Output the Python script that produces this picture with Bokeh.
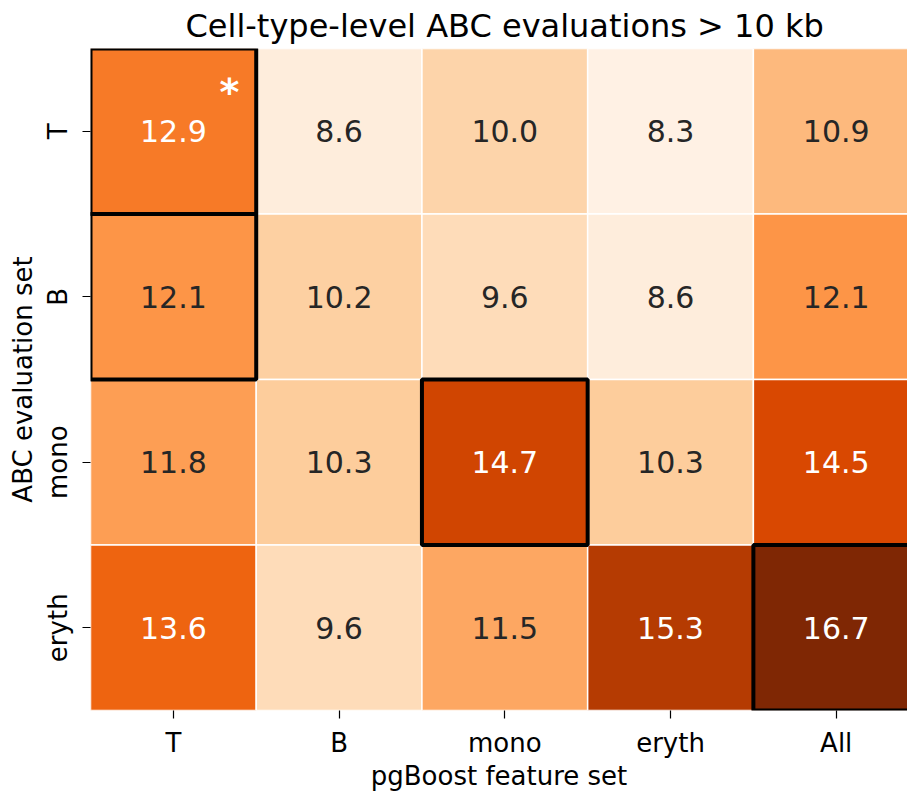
import numpy as np
from bokeh.plotting import figure
from bokeh.models import ColumnDataSource, LinearColorMapper, FixedTicker, Range1d
from bokeh.palettes import Oranges256
from bokeh.transform import transform
from bokeh.embed import file_html
from bokeh.resources import INLINE
from bokeh.core.properties import value

feature_sets = ["T", "B", "mono", "eryth", "All"]
eval_sets = ["T", "B", "mono", "eryth"]
values = [
    [12.9, 8.6, 10.0, 8.3, 10.9],
    [12.1, 10.2, 9.6, 8.6, 12.1],
    [11.8, 10.3, 14.7, 10.3, 14.5],
    [13.6, 9.6, 11.5, 15.3, 16.7],
]
highlight_cells = [("T", "T"), ("B", "T"), ("mono", "mono"), ("eryth", "All")]
star_cells = [("T", "T")]
title_text = "Cell-type-level ABC evaluations > 10 kb"

FONT = "DejaVu Sans"

xs, ys, vs, labels, tcolors = [], [], [], [], []
for r, ev in enumerate(eval_sets):
    for c, fs in enumerate(feature_sets):
        v = values[r][c]
        xs.append(c + 0.5)
        ys.append(r + 0.5)
        vs.append(v)
        labels.append(f"{v:.1f}")
        tcolors.append("white" if v > 12.5 else "#262626")

src = ColumnDataSource(dict(x=xs, y=ys, v=vs, label=labels, tc=tcolors))
mapper = LinearColorMapper(palette=list(reversed(Oranges256)), low=8.0, high=16.7)

p = figure(width=907, height=795, output_backend="svg", toolbar_location=None,
           x_range=Range1d(0, 4.93), y_range=Range1d(4, 0),
           min_border_left=90, min_border_right=0, min_border_top=47, min_border_bottom=85)
p.outline_line_color = None
p.grid.visible = False
p.background_fill_color = "white"

p.rect(x="x", y="y", width=1, height=1, source=src,
       fill_color=transform("v", mapper), line_color="white", line_width=1.5)

hx = [feature_sets.index(f) + 0.5 for e, f in highlight_cells]
hy = [eval_sets.index(e) + 0.5 for e, f in highlight_cells]
p.rect(x=hx, y=hy, width=1, height=1, fill_color=None, line_color="black", line_width=4)

p.text(x="x", y="y", text="label", source=src, text_color="tc",
       text_align="center", text_baseline="middle",
       text_font=value(FONT), text_font_size="30px")

sx = [feature_sets.index(f) + 0.5 for e, f in star_cells]
sy = [eval_sets.index(e) + 0.5 for e, f in star_cells]
p.text(x=sx, y=sy, text=["*"] * len(sx), x_offset=56, y_offset=-39,
       text_color="white", text_align="center", text_baseline="middle",
       text_font=value(FONT), text_font_size="38px", text_font_style="bold")

p.xaxis.ticker = FixedTicker(ticks=[i + 0.5 for i in range(len(feature_sets))])
p.xaxis.major_label_overrides = {i + 0.5: s for i, s in enumerate(feature_sets)}
p.yaxis.ticker = FixedTicker(ticks=[i + 0.5 for i in range(len(eval_sets))])
p.yaxis.major_label_overrides = {i + 0.5: s for i, s in enumerate(eval_sets)}
p.yaxis.major_label_orientation = "vertical"

for ax in (p.xaxis[0], p.yaxis[0]):
    ax.axis_line_color = None
    ax.minor_tick_line_color = None
    ax.major_tick_out = 8
    ax.major_tick_in = 0
    ax.major_tick_line_color = "black"
    ax.major_tick_line_width = 1.2
    ax.major_label_text_font = FONT
    ax.major_label_text_font_size = "26px"
    ax.major_label_text_color = "black"
    ax.axis_label_text_font = FONT
    ax.axis_label_text_font_size = "26px"
    ax.axis_label_text_font_style = "normal"
    ax.axis_label_text_color = "black"

p.xaxis.axis_label = "pgBoost feature set"
p.yaxis.axis_label = "ABC evaluation set"
p.xaxis.major_label_standoff = 9
p.xaxis.axis_label_standoff = 0
p.yaxis.major_label_standoff = 10
p.yaxis.axis_label_standoff = 2

p.title.text = title_text
p.title.align = "left"
p.title.offset = 95
p.title.text_font = FONT
p.title.text_font_size = "32px"
p.title.text_font_style = "normal"
p.title.text_color = "black"
p.title.standoff = 8

open("out.html", "w").write(file_html(p, INLINE))
